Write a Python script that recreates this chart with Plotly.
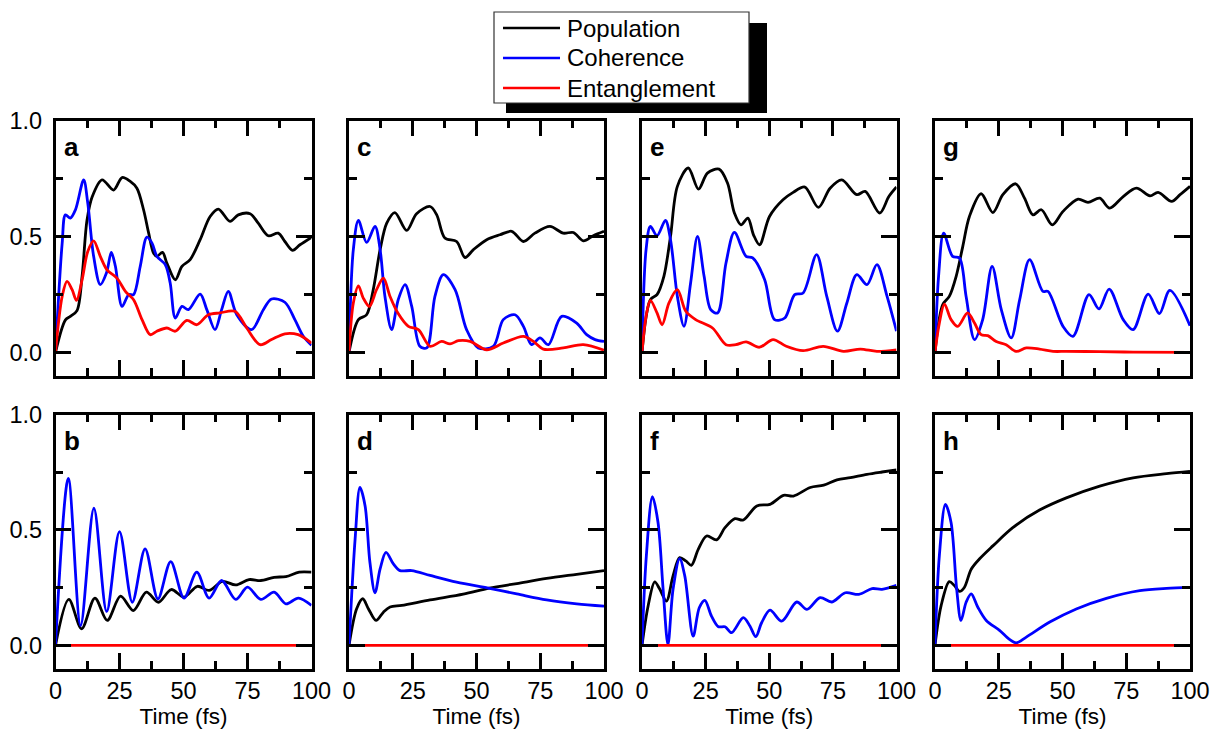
import plotly.graph_objects as go

W, H = 1214, 731

SERIES_NAMES = ["Population", "Coherence", "Entanglement"]
SERIES_COLORS = ["#000000", "#0000FF", "#FF0000"]
PANEL_LETTERS = ["a", "c", "e", "g", "b", "d", "f", "h"]
X_TICK_LABELS = ["0", "25", "50", "75", "100"]
Y_TICK_LABELS = ["0.0", "0.5", "1.0"]
X_TITLE = "Time (fs)"

# ---------- panel a ----------
A_POP_T = [0, 3.9, 5.8, 8.4, 10.4, 12.3, 14.3, 18.2, 22.7, 26, 29.2, 31.8, 34.4, 36.4, 38.3, 39.6, 41.8, 43.5,
           46.8, 49.4, 52.6, 56.5, 60.4, 63.6, 68.2, 71.4, 76, 79.2, 83.1, 87, 89.6, 92.6, 95.5, 100]
A_POP = [0, 0.14, 0.155, 0.18, 0.33, 0.57, 0.67, 0.744, 0.70, 0.754, 0.737, 0.708, 0.615, 0.514, 0.428, 0.414,
         0.431, 0.385, 0.313, 0.371, 0.40, 0.486, 0.586, 0.618, 0.565, 0.593, 0.598, 0.557, 0.503, 0.514, 0.478,
         0.44, 0.464, 0.496]
A_COH_T = [0, 2.6, 3.9, 5.8, 7.8, 11, 12.6, 14.9, 17.5, 19.9, 21.8, 23.4, 26, 28.6, 30.5, 33.1, 35.7, 37.7, 39.6,
           42.9, 44.8, 46.8, 49.4, 51.9, 56.5, 59.1, 62.3, 64.9, 67.5, 70.8, 76.6, 81.2, 84.4, 89.6, 93.5, 96.8, 100]
A_COH = [0, 0.47, 0.593, 0.579, 0.615, 0.744, 0.644, 0.414, 0.292, 0.342, 0.431, 0.371, 0.198, 0.249, 0.249,
         0.371, 0.497, 0.471, 0.414, 0.378, 0.299, 0.148, 0.198, 0.184, 0.251, 0.184, 0.098, 0.184, 0.263, 0.162,
         0.098, 0.184, 0.23, 0.216, 0.141, 0.069, 0.03]
A_ENT_T = [0, 2.6, 4.5, 6.5, 8.2, 10.4, 12.6, 14.9, 17.5, 20.1, 24, 27.3, 30.5, 33.8, 37, 39.6, 43.5, 46.8, 51.3,
           55.2, 59.7, 64.3, 70.1, 74.7, 79.9, 84.4, 89.6, 94.8, 100]
A_ENT = [0, 0.241, 0.306, 0.27, 0.224, 0.313, 0.435, 0.481, 0.414, 0.356, 0.32, 0.263, 0.227, 0.141, 0.076, 0.091,
         0.105, 0.091, 0.138, 0.119, 0.162, 0.17, 0.177, 0.105, 0.033, 0.055, 0.08, 0.076, 0.04]

# ---------- panel c ----------
C_POP_T = [0, 3.7, 6.9, 9.5, 12.2, 14.8, 18, 22.6, 26.5, 31.8, 34.4, 37.6, 42.2, 45.5, 48.8, 54, 59.2, 63.8, 68.4,
           72.9, 78.8, 84, 88, 91.9, 95.8, 100]
C_POP = [0, 0.141, 0.162, 0.27, 0.443, 0.557, 0.603, 0.526, 0.598, 0.629, 0.593, 0.493, 0.478, 0.409, 0.443, 0.486,
         0.507, 0.522, 0.478, 0.514, 0.543, 0.514, 0.517, 0.481, 0.503, 0.522]
C_COH_T = [0, 1.7, 3.7, 6.9, 10.2, 12.2, 14.1, 16.7, 19.3, 22, 24.6, 27.8, 30.5, 33.7, 37, 41.6, 46.1, 50.7, 56.6,
           60.5, 65.1, 68.4, 71.6, 74.9, 78.2, 83.4, 89.3, 93.2, 96.5, 100]
C_COH = [0, 0.443, 0.569, 0.474, 0.543, 0.443, 0.241, 0.098, 0.227, 0.292, 0.198, 0.026, 0.019, 0.241, 0.335, 0.27,
         0.098, 0.019, 0.026, 0.141, 0.162, 0.112, 0.033, 0.062, 0.033, 0.155, 0.126, 0.076, 0.055, 0.047]
C_ENT_T = [0, 1.7, 3.7, 5.6, 8, 10.8, 13.5, 16.1, 19.3, 23.3, 27.2, 31.8, 36.3, 39.6, 42.9, 47.5, 54, 60.5, 68.4,
           72.3, 76.2, 84, 91.9, 100]
C_ENT = [0, 0.213, 0.287, 0.234, 0.198, 0.27, 0.32, 0.241, 0.167, 0.112, 0.098, 0.026, 0.047, 0.036, 0.05, 0.047,
         0.011, 0.04, 0.069, 0.047, 0.014, 0.019, 0.033, 0.009]

# ---------- panel e ----------
E_POP_T = [0, 3.3, 5.9, 8.6, 11.2, 13.9, 18.2, 22.2, 25.7, 30.3, 33.6, 36.3, 38.9, 41.6, 43.8, 46.2, 50.1, 55.4,
           59.4, 64, 69.3, 73.9, 78.5, 84.4, 87.7, 93.4, 97, 100]
E_POP = [0, 0.227, 0.249, 0.328, 0.5, 0.716, 0.795, 0.704, 0.773, 0.79, 0.73, 0.601, 0.55, 0.579, 0.507, 0.464,
         0.586, 0.658, 0.69, 0.713, 0.625, 0.708, 0.744, 0.68, 0.694, 0.601, 0.672, 0.713]
E_COH_T = [0, 1.6, 3.3, 5.9, 9.2, 11.2, 13.9, 16.5, 19.1, 21.8, 24.4, 27, 29.7, 33, 36.3, 40.9, 43.5, 48.2, 52.1,
           56.1, 60, 63.3, 68.6, 72.6, 76.8, 80.5, 84.4, 88.4, 92.3, 96.3, 100]
E_COH = [0, 0.443, 0.543, 0.503, 0.569, 0.486, 0.241, 0.112, 0.299, 0.5, 0.328, 0.184, 0.17, 0.385, 0.517, 0.414,
         0.407, 0.313, 0.141, 0.148, 0.249, 0.256, 0.421, 0.241, 0.091, 0.213, 0.335, 0.292, 0.378, 0.241, 0.091]
E_ENT_T = [0, 1.6, 3.3, 5.9, 7.9, 10.6, 13.9, 17.2, 21.1, 27.7, 33, 36.9, 40.9, 46.2, 51.5, 56.7, 63.3, 71.2, 79.2,
           85.8, 92.3, 100]
E_ENT = [0, 0.155, 0.224, 0.17, 0.119, 0.213, 0.27, 0.177, 0.141, 0.105, 0.033, 0.033, 0.045, 0.022, 0.055, 0.026,
         0.007, 0.026, 0.004, 0.014, 0.004, 0.011]

# ---------- panel g ----------
G_POP_T = [0, 3, 5.6, 8.3, 10.9, 13.5, 18.1, 22.7, 26.6, 31.6, 35.1, 38.4, 41.7, 46, 50.2, 56.1, 60, 64.6, 68.5,
           73.8, 79, 84.3, 87.5, 92.8, 96.1, 100]
G_POP = [0, 0.205, 0.241, 0.328, 0.457, 0.586, 0.684, 0.603, 0.68, 0.727, 0.665, 0.593, 0.615, 0.55, 0.608, 0.661,
         0.647, 0.665, 0.622, 0.672, 0.708, 0.675, 0.69, 0.651, 0.68, 0.716]
G_COH_T = [0, 1.4, 3.4, 6.9, 9.6, 12.2, 15.5, 18.7, 22.4, 26, 29.9, 33.2, 37.1, 42.3, 44.3, 50.2, 54.1, 60.4, 64.3,
           68.3, 73.8, 77.7, 83.6, 88, 92.1, 100]
G_COH = [0, 0.328, 0.514, 0.414, 0.407, 0.241, 0.055, 0.141, 0.371, 0.184, 0.062, 0.227, 0.4, 0.263, 0.263, 0.112,
         0.069, 0.249, 0.187, 0.273, 0.141, 0.098, 0.251, 0.167, 0.267, 0.115]
G_ENT_T = [0, 1.7, 3.7, 6.3, 8.9, 12.8, 15.5, 18.1, 20.7, 24, 27.9, 31.8, 35.8, 41, 46.3, 51.5, 64.6, 77.7, 100]
G_ENT = [0, 0.126, 0.208, 0.141, 0.112, 0.17, 0.126, 0.076, 0.072, 0.047, 0.033, 0.004, 0.019, 0.014, 0.004, 0.004,
         0.003, 0.001, 0]

# ---------- panel b ----------
B_POP_T = [0, 5.2, 10.2, 15.4, 20.2, 25.4, 30.4, 35.5, 40.2, 45.2, 50.2, 55.4, 60, 65.2, 70.4, 75.6, 80.2, 85.4, 90,
           95.2, 100]
B_POP = [0, 0.199, 0.072, 0.205, 0.108, 0.213, 0.151, 0.231, 0.187, 0.242, 0.209, 0.256, 0.238, 0.277, 0.262, 0.285,
         0.281, 0.295, 0.298, 0.317, 0.317]
B_COH_T = [0, 5, 9.8, 15, 20, 25, 30, 35, 40, 45, 50.2, 55.2, 60, 64.9, 70.4, 75, 80.2, 85.4, 90, 94.9, 100]
B_COH = [0, 0.723, 0.086, 0.594, 0.147, 0.493, 0.187, 0.418, 0.202, 0.363, 0.205, 0.317, 0.205, 0.281, 0.199, 0.252,
         0.199, 0.231, 0.18, 0.205, 0.173]
B_ENT_T = [0, 100]
B_ENT = [0, 0]

# ---------- panel d ----------
D_POP_T = [0, 3, 5.4, 7.6, 10.6, 13.5, 16.1, 20.7, 31.8, 44.8, 55, 65.8, 77.5, 89.3, 100]
D_POP = [0, 0.159, 0.202, 0.159, 0.108, 0.144, 0.166, 0.173, 0.197, 0.222, 0.248, 0.268, 0.29, 0.308, 0.324]
D_COH_T = [0, 2.4, 4.3, 6.3, 8.2, 10.2, 12.2, 14.5, 17.4, 20, 24.6, 31.8, 42.2, 54.6, 65.8, 77.5, 89.3, 100]
D_COH = [0, 0.461, 0.684, 0.605, 0.36, 0.228, 0.331, 0.403, 0.353, 0.324, 0.324, 0.303, 0.274, 0.248, 0.223, 0.197,
         0.18, 0.17]
D_ENT_T = [0, 100]
D_ENT = [0, 0]

# ---------- panel f ----------
F_POP_T = [0, 2.4, 5, 7, 9.6, 12.2, 14.8, 17.2, 19.4, 22.1, 25.4, 29.3, 32.6, 36.5, 39.8, 45.1, 50.3, 55.6, 59.5,
           66.1, 71.4, 76.6, 81.9, 88.4, 94.3, 100]
F_POP = [0, 0.171, 0.275, 0.243, 0.192, 0.301, 0.38, 0.366, 0.347, 0.416, 0.474, 0.457, 0.51, 0.549, 0.543, 0.604,
         0.611, 0.65, 0.647, 0.684, 0.694, 0.717, 0.727, 0.741, 0.751, 0.76]
F_COH_T = [0, 1.7, 4.1, 6.3, 8.3, 10.2, 12.2, 14.8, 16.8, 20.1, 22.5, 24.7, 27.3, 30, 32.6, 35.2, 39.8, 42.4, 44.7,
           47, 50.3, 54.9, 60.8, 64.8, 70, 74.6, 79.9, 85.2, 90.4, 94.3, 100]
F_COH = [0, 0.387, 0.644, 0.532, 0.243, 0.004, 0.243, 0.376, 0.301, 0.04, 0.163, 0.195, 0.127, 0.081, 0.081, 0.055,
         0.12, 0.084, 0.038, 0.098, 0.153, 0.105, 0.188, 0.156, 0.207, 0.188, 0.228, 0.221, 0.246, 0.243, 0.26]
F_ENT_T = [0, 100]
F_ENT = [0, 0]

# ---------- panel h ----------
H_POP_T = [0, 2.4, 5.6, 7.6, 9.6, 11.5, 14.2, 17.4, 22.7, 30.5, 41, 51.5, 64.6, 77.7, 90.8, 100]
H_POP = [0, 0.172, 0.276, 0.259, 0.234, 0.251, 0.33, 0.374, 0.431, 0.51, 0.586, 0.639, 0.69, 0.726, 0.744, 0.754]
H_COH_T = [0, 1.7, 4.1, 6.3, 8.5, 10.2, 12.2, 14.2, 16.8, 20.1, 25.3, 29.2, 31.8, 35.8, 45, 55.4, 67.2, 80.3, 90.8,
           100]
H_COH = [0, 0.388, 0.611, 0.532, 0.244, 0.108, 0.187, 0.223, 0.165, 0.108, 0.065, 0.026, 0.011, 0.036, 0.101, 0.158,
         0.204, 0.237, 0.247, 0.251]
H_ENT_T = [0, 100]
H_ENT = [0, 0]

PANEL_DATA = [
    [(A_POP_T, A_POP), (A_COH_T, A_COH), (A_ENT_T, A_ENT)],
    [(C_POP_T, C_POP), (C_COH_T, C_COH), (C_ENT_T, C_ENT)],
    [(E_POP_T, E_POP), (E_COH_T, E_COH), (E_ENT_T, E_ENT)],
    [(G_POP_T, G_POP), (G_COH_T, G_COH), (G_ENT_T, G_ENT)],
    [(B_POP_T, B_POP), (B_COH_T, B_COH), (B_ENT_T, B_ENT)],
    [(D_POP_T, D_POP), (D_COH_T, D_COH), (D_ENT_T, D_ENT)],
    [(F_POP_T, F_POP), (F_COH_T, F_COH), (F_ENT_T, F_ENT)],
    [(H_POP_T, H_POP), (H_COH_T, H_COH), (H_ENT_T, H_ENT)],
]

# ---------- layout geometry (pixels) ----------
COLS_PX = [(55.5, 311.5), (349, 604), (642, 896.5), (935, 1190)]
ROWS_PX = [(120.5, 375.5), (414.5, 668.5)]
FONT = "Liberation Sans, Arial, Helvetica, sans-serif"


def px_x(p):
    return p / W


def px_y(p):
    return 1 - p / H


fig = go.Figure()
layout = dict(
    width=W, height=H, margin=dict(l=0, r=0, t=0, b=0, pad=0, autoexpand=False),
    paper_bgcolor="white", plot_bgcolor="white", showlegend=False,
    font=dict(family=FONT, color="black", size=23),
)

annotations = []
for i, series in enumerate(PANEL_DATA):
    row, col = divmod(i, 4)
    n = i + 1
    xa = "x" if n == 1 else f"x{n}"
    ya = "y" if n == 1 else f"y{n}"
    for k, (t, v) in enumerate(series):
        fig.add_trace(go.Scatter(
            x=t, y=v, mode="lines", name=SERIES_NAMES[k], xaxis=xa, yaxis=ya,
            line=dict(color=SERIES_COLORS[k], width=2.8, shape="spline", smoothing=0.9),
            showlegend=False,
        ))
    x0, x1 = COLS_PX[col]
    y0, y1 = ROWS_PX[row]
    common = dict(
        showline=True, linecolor="black", linewidth=2.5, mirror="allticks",
        ticks="inside", tickcolor="black", tickwidth=2.5, ticklen=16,
        showgrid=False, zeroline=False, tickfont=dict(family=FONT, size=23.5, color="black"),
        layer="above traces", automargin=False,
    )
    layout["xaxis" if n == 1 else f"xaxis{n}"] = dict(
        common, domain=[px_x(x0), px_x(x1)], range=[0, 100], anchor=ya,
        tickmode="array", tickvals=[0, 25, 50, 75, 100], ticktext=X_TICK_LABELS,
        minor=dict(ticks="inside", tickvals=[12.5, 37.5, 62.5, 87.5], ticklen=8, tickwidth=2.5, tickcolor="black"),
        showticklabels=(row == 1),
        title=dict(text=X_TITLE if row == 1 else "", font=dict(family=FONT, size=22.5, color="black"), standoff=0),
        ticklabelstandoff=0,
    )
    layout["yaxis" if n == 1 else f"yaxis{n}"] = dict(
        common, domain=[px_y(y1), px_y(y0)], range=[-0.1, 1.0], anchor=xa,
        tickmode="array", tickvals=[0, 0.5, 1.0], ticktext=Y_TICK_LABELS,
        minor=dict(ticks="inside", tickvals=[0.25, 0.75], ticklen=8, tickwidth=2.5, tickcolor="black"),
        showticklabels=(col == 0),
        ticklabelstandoff=6,
    )
    annotations.append(dict(
        text=f"<b>{PANEL_LETTERS[i]}</b>", xref="paper", yref="paper",
        x=px_x(x0 + 6), y=px_y(y0 + 26), xanchor="left", yanchor="middle",
        showarrow=False, font=dict(family=FONT, size=26, color="black"),
    ))

# ---------- legend (box with drop shadow) ----------
LEG_BOX = (494, 12, 749, 103)
LEG_SHADOW = (506, 23, 767, 113)
LEG_ROWS_Y = [28, 58, 88]
shapes = [
    dict(type="rect", xref="paper", yref="paper", x0=px_x(LEG_SHADOW[0]), x1=px_x(LEG_SHADOW[2]),
         y0=px_y(LEG_SHADOW[3]), y1=px_y(LEG_SHADOW[1]), fillcolor="black", line=dict(width=0), layer="above"),
    dict(type="rect", xref="paper", yref="paper", x0=px_x(LEG_BOX[0]), x1=px_x(LEG_BOX[2]),
         y0=px_y(LEG_BOX[3]), y1=px_y(LEG_BOX[1]), fillcolor="white", line=dict(color="#333333", width=1.2),
         layer="above"),
]
for k, name in enumerate(SERIES_NAMES):
    yy = LEG_ROWS_Y[k]
    shapes.append(dict(type="line", xref="paper", yref="paper", x0=px_x(503), x1=px_x(560),
                       y0=px_y(yy), y1=px_y(yy), line=dict(color=SERIES_COLORS[k], width=2.5), layer="above"))
    annotations.append(dict(text=name, xref="paper", yref="paper", x=px_x(565), y=px_y(yy),
                            xanchor="left", yanchor="middle", showarrow=False,
                            font=dict(family=FONT, size=24, color="black")))

layout["shapes"] = shapes
layout["annotations"] = annotations
fig.update_layout(**layout)
fig.write_html("out.html")
